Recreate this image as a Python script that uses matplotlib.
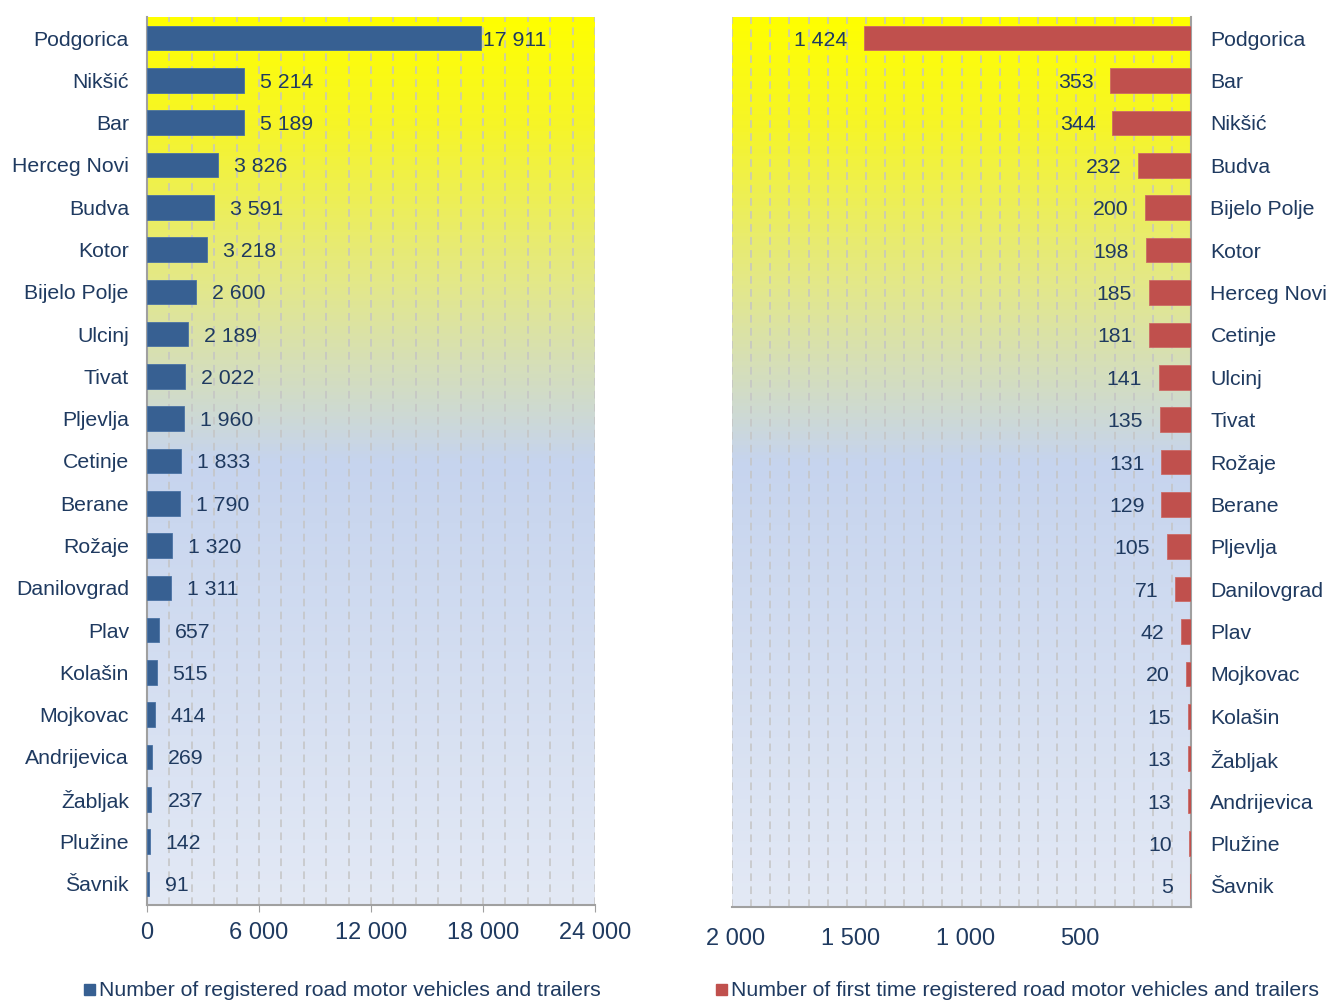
import numpy as np
import matplotlib
matplotlib.use("Agg")
import matplotlib.pyplot as plt
import matplotlib.transforms as mtransforms
from matplotlib.colors import LinearSegmentedColormap
from matplotlib.patches import Rectangle

plt.rcParams['font.family'] = ['Liberation Sans', 'DejaVu Sans']

# registered vehicles and trailers, by municipality
reg_towns = ['Podgorica', 'Nikšić', 'Bar', 'Herceg Novi', 'Budva', 'Kotor',
             'Bijelo Polje', 'Ulcinj', 'Tivat', 'Pljevlja', 'Cetinje', 'Berane',
             'Rožaje', 'Danilovgrad', 'Plav', 'Kolašin', 'Mojkovac',
             'Andrijevica', 'Žabljak', 'Plužine', 'Šavnik']
reg_values = [17911, 5214, 5189, 3826, 3591, 3218, 2600, 2189, 2022, 1960,
              1833, 1790, 1320, 1311, 657, 515, 414, 269, 237, 142, 91]

# first time registered
first_towns = ['Podgorica', 'Bar', 'Nikšić', 'Budva', 'Bijelo Polje', 'Kotor',
               'Herceg Novi', 'Cetinje', 'Ulcinj', 'Tivat', 'Rožaje', 'Berane',
               'Pljevlja', 'Danilovgrad', 'Plav', 'Mojkovac', 'Kolašin',
               'Žabljak', 'Andrijevica', 'Plužine', 'Šavnik']
first_values = [1424, 353, 344, 232, 200, 198, 185, 181, 141, 135, 131, 129,
                105, 71, 42, 20, 15, 13, 13, 10, 5]

left_ticks = [0, 6000, 12000, 18000, 24000]
right_ticks = [2000, 1500, 1000, 500]

navy = '#1F3A60'
blue = '#376092'
red = '#C0504D'
grid_c = '#C4C4C4'
spine_c = '#A0A0A0'
fs = 15.3
tick_fs = 17

def fmt(v):
    return f'{v:,}'.replace(',', ' ')

bg = LinearSegmentedColormap.from_list('bg', [(0.0, '#FFFF00'), (0.12, '#F6F528'),
                                              (0.3, '#E3E88A'), (0.5, '#C6D4EE'),
                                              (1.0, '#E3E9F5')])

def gradient(ax):
    x0, x1 = ax.get_xlim()
    y0, y1 = ax.get_ylim()
    g = np.linspace(0, 1, 256).reshape(-1, 1)
    ax.imshow(g, cmap=bg, aspect='auto', extent=(x0, x1, y0, y1),
              origin='upper', zorder=0)
    ax.set_xlim(x0, x1)
    ax.set_ylim(y0, y1)

fig = plt.figure(figsize=(13.28, 10.01), dpi=100)

# ---- left panel ----
ax1 = fig.add_axes([147/1328, 1 - 905/1001, 448/1328, 888/1001])
n = len(reg_towns)
y = np.arange(n)
ax1.set_xlim(0, 24000)
ax1.set_ylim(n - 0.5, -0.5)
gradient(ax1)
ax1.barh(y, reg_values, height=0.58, color=blue, edgecolor='#4A72A4',
         linewidth=0.6, zorder=3)
for gx in np.arange(1200, 24001, 1200):
    ax1.axvline(gx, color=grid_c, lw=1.1, dashes=(5, 3.5), zorder=1)
for i, v in enumerate(reg_values):
    off = 1 if i == 0 else 11.5
    ax1.annotate(fmt(v), (v, i), xytext=(off, 0), textcoords='offset points',
                 va='center_baseline', ha='left', fontsize=fs, color=navy, zorder=4)
ax1.set_yticks(y)
ax1.set_yticklabels(reg_towns, fontsize=fs, color=navy)
ax1.tick_params(axis='y', length=0, pad=13)
ax1.set_xticks(left_ticks)
ax1.set_xticklabels([fmt(t) for t in left_ticks], fontsize=tick_fs, color=navy)
ax1.tick_params(axis='x', length=5, color=spine_c, pad=7)
for s in ['top', 'right']:
    ax1.spines[s].set_visible(False)
for s in ['left', 'bottom']:
    ax1.spines[s].set_color(spine_c)
    ax1.spines[s].set_linewidth(1.5)

# ---- right panel ----
ax2 = fig.add_axes([732/1328, 1 - 907/1001, 459/1328, 890/1001])
ax2.set_xlim(2000, 0)
ax2.set_ylim(n - 0.5, -0.5)
gradient(ax2)
ax2.barh(y, first_values, height=0.58, color=red, edgecolor='#CC6A66',
         linewidth=0.6, zorder=3)
for gx in np.arange(0, 2001, 2000 / 24)[1:]:
    ax2.axvline(gx, color=grid_c, lw=1.1, dashes=(5, 3.5), zorder=1)
for i, v in enumerate(first_values):
    ax2.annotate(fmt(v), (v, i), xytext=(-12, 0), textcoords='offset points',
                 va='center_baseline', ha='right', fontsize=fs, color=navy, zorder=4)
ax2.yaxis.tick_right()
ax2.set_yticks(y)
ax2.set_yticklabels(first_towns, fontsize=fs, color=navy)
ax2.tick_params(axis='y', length=0, pad=14)
ax2.set_xticks(right_ticks)
ax2.set_xticklabels([fmt(t) for t in right_ticks], fontsize=tick_fs, color=navy)
ax2.tick_params(axis='x', length=0, pad=15)
shift = mtransforms.ScaledTranslation(4/100, 0, fig.dpi_scale_trans)
for lab in ax2.get_xticklabels():
    lab.set_transform(lab.get_transform() + shift)
for s in ['top', 'left']:
    ax2.spines[s].set_visible(False)
for s in ['right', 'bottom']:
    ax2.spines[s].set_color(spine_c)
    ax2.spines[s].set_linewidth(1.5)

# legends
fig.patches.append(Rectangle((84/1328, 1 - 995/1001), 11/1328, 11/1001,
                             transform=fig.transFigure, color=blue))
fig.text(99/1328, 1 - 990/1001, 'Number of registered road motor vehicles and trailers',
         fontsize=fs, color=navy, va='center')
fig.patches.append(Rectangle((716/1328, 1 - 995/1001), 11/1328, 11/1001,
                             transform=fig.transFigure, color=red))
fig.text(731/1328, 1 - 990/1001, 'Number of first time registered road motor vehicles and trailers',
         fontsize=fs, color=navy, va='center')

fig.savefig('out.png', dpi=100)
